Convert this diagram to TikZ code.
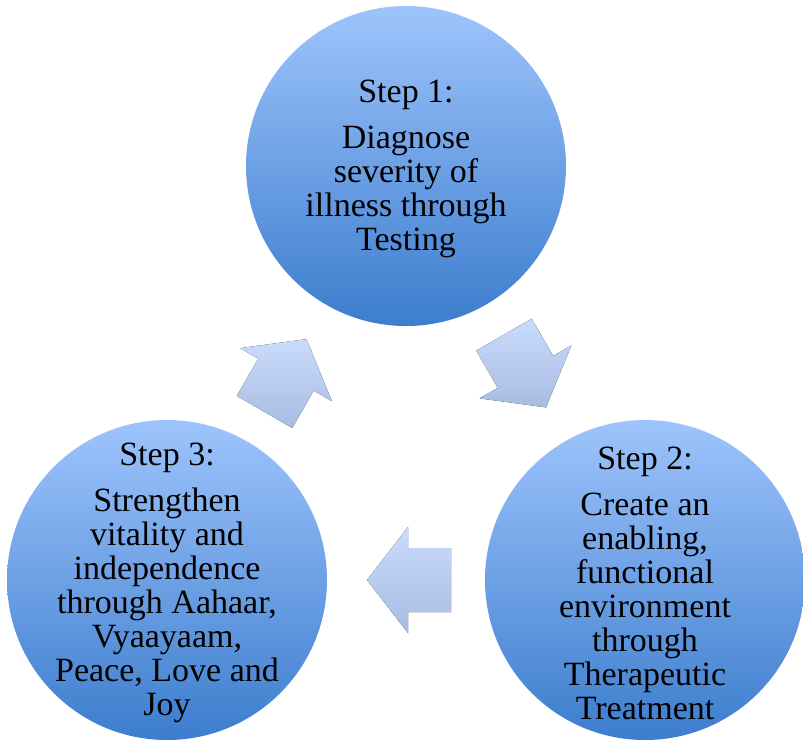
\documentclass[tikz,border=0pt]{standalone}
\usepackage{fontspec}
\setmainfont{Liberation Serif}
\usetikzlibrary{calc}
\definecolor{circtop}{RGB}{158,196,252}
\definecolor{circbot}{RGB}{60,125,205}
\definecolor{arrtop}{RGB}{202,220,252}
\definecolor{arrbot}{RGB}{168,188,226}
% block arrow centred on #1, pointing along heading #2 (degrees)
\newcommand{\blockarrowat}[2]{%
  \fill[cyclearrow]
    ($(#1)+(#2:42)$)
    -- ($(#1)+(#2:1)+(#2+90:53)$)
    -- ($(#1)+(#2:1)+(#2+90:32)$)
    -- ($(#1)+(#2:-42)+(#2+90:32)$)
    -- ($(#1)+(#2:-42)+(#2-90:32)$)
    -- ($(#1)+(#2:1)+(#2-90:32)$)
    -- ($(#1)+(#2:1)+(#2-90:53)$)
    -- cycle;}
\begin{document}
\begin{tikzpicture}[x=1pt,y=-1pt,
  stepcircle/.style={circle, minimum size=320pt, inner sep=0pt,
    top color=circtop, bottom color=circbot},
  steptext/.style={align=center, text=black, inner sep=0pt, yshift=-3pt,
    font=\fontsize{34}{34}\selectfont},
  cyclearrow/.style={top color=arrtop, bottom color=arrbot}]
\useasboundingbox (0,0) rectangle (803,740);
\clip (0,0) rectangle (803,740);

% the three steps
\node[stepcircle] (s1) at (406,166) {};
\node[stepcircle] (s2) at (645,580) {};
\node[stepcircle] (s3) at (167,580) {};
\node[steptext] (t1) at (s1)
  {Step 1:\\[12pt]Diagnose\\severity of\\illness through\\Testing};
\node[steptext] (t2) at (s2)
  {Step 2:\\[12pt]Create an\\enabling,\\functional\\environment\\through\\Therapeutic\\Treatment};
\node[steptext] (t3) at (s3)
  {Step 3:\\[12pt]Strengthen\\vitality and\\independence\\through Aahaar,\\Vyaayaam,\\Peace, Love and\\Joy};

% arrows of the cycle
\coordinate (a12) at (525,371);
\coordinate (a23) at (409,580);
\coordinate (a31) at (285.5,375.5);
\blockarrowat{a12}{60}
\blockarrowat{a23}{180}
\blockarrowat{a31}{-60}
\end{tikzpicture}
\end{document}
